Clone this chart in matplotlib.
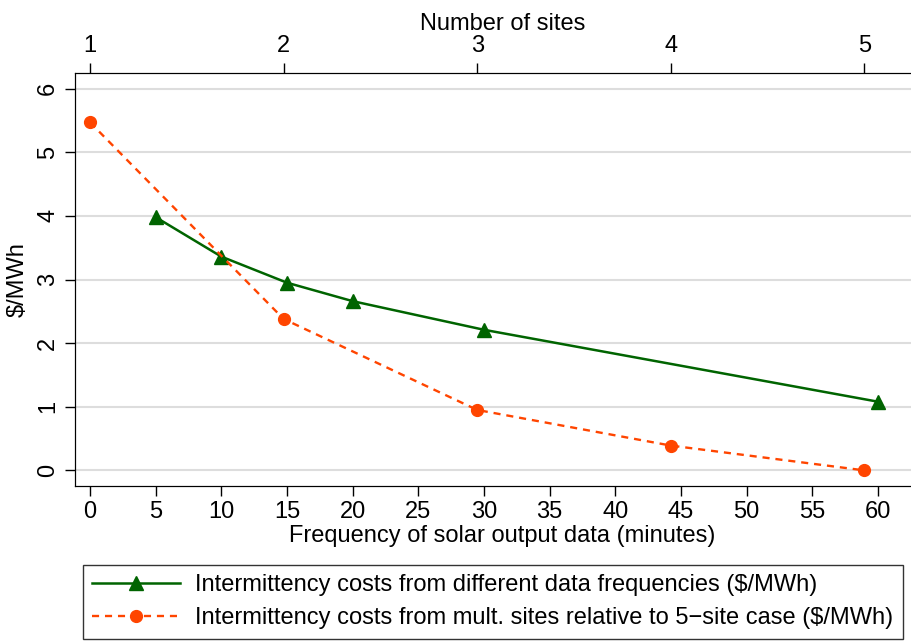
import matplotlib
matplotlib.use("Agg")
import matplotlib.pyplot as plt

plt.rcParams["font.family"] = ["Liberation Sans Narrow", "Liberation Sans", "DejaVu Sans"]

# data
freq_minutes = [5, 10, 15, 20, 30, 60]
freq_costs = [3.98, 3.36, 2.95, 2.66, 2.21, 1.08]

n_sites = [1, 2, 3, 4, 5]
site_costs = [5.47, 2.38, 0.95, 0.39, 0.0]

x_ticks = list(range(0, 61, 5))
y_ticks = [0, 1, 2, 3, 4, 5, 6]

label_freq = "Intermittency costs from different data frequencies (\\$/MWh)"
label_sites = "Intermittency costs from mult. sites relative to 5\u2212site case (\\$/MWh)"

GREEN = "#006400"
ORANGE = "#FF4500"
FS = 17

fig = plt.figure(figsize=(9.12, 6.43), dpi=100)
ax = fig.add_axes([0.0817, 0.2442, 0.9384, 0.6427])

# minutes axis: 0 at px 90, 60 at px 878
x_lo, x_hi = -1.18, 64.0
ax.set_xlim(x_lo, x_hi)
ax.set_ylim(-0.245, 6.25)

for y in y_ticks:
    ax.axhline(y, color="#DDDDDD", lw=1.5, zorder=0)

ax.plot(freq_minutes, freq_costs, color=GREEN, lw=1.8, marker="^", ms=10,
        label=label_freq, zorder=3)

ax.set_xticks(x_ticks)
ax.set_yticks(y_ticks)
ax.tick_params(axis="both", direction="out", length=7, width=1, labelsize=FS, pad=4)
ax.tick_params(axis="y", labelrotation=90)
for t in ax.get_yticklabels():
    t.set_verticalalignment("center")
ax.set_xlabel("Frequency of solar output data (minutes)", fontsize=FS, labelpad=1)
ax.set_ylabel("\\$/MWh", fontsize=FS, labelpad=6)
ax.spines["right"].set_visible(False)

# top axis: one site = 14.745 minutes, site 1 at minute 0
ax2 = ax.twiny()
per_site = 14.745
ax2.set_xlim(1 + x_lo / per_site, 1 + x_hi / per_site)
ax2.set_xticks(n_sites)
ax2.tick_params(axis="x", direction="out", length=7, width=1, labelsize=FS, pad=4)
ax2.set_xlabel("Number of sites", fontsize=FS, labelpad=4)
ax2.spines["right"].set_visible(False)

ax2.plot(n_sites, site_costs, color=ORANGE, lw=1.7, ls=(0, (3, 2.5)), marker="o",
         ms=8.5, label=label_sites, zorder=3)

h1, l1 = ax.get_legend_handles_labels()
h2, l2 = ax2.get_legend_handles_labels()
leg = fig.legend(h1 + h2, l1 + l2, loc="upper left", bbox_to_anchor=(83 / 912, 1 - 565 / 643),
                 borderaxespad=0, fontsize=FS, frameon=True, fancybox=False,
                 handlelength=3.7, handletextpad=0.65, borderpad=0.4,
                 labelspacing=0.45, edgecolor="black")
leg.get_frame().set_linewidth(1.0)

fig.savefig("out.png", dpi=100)
